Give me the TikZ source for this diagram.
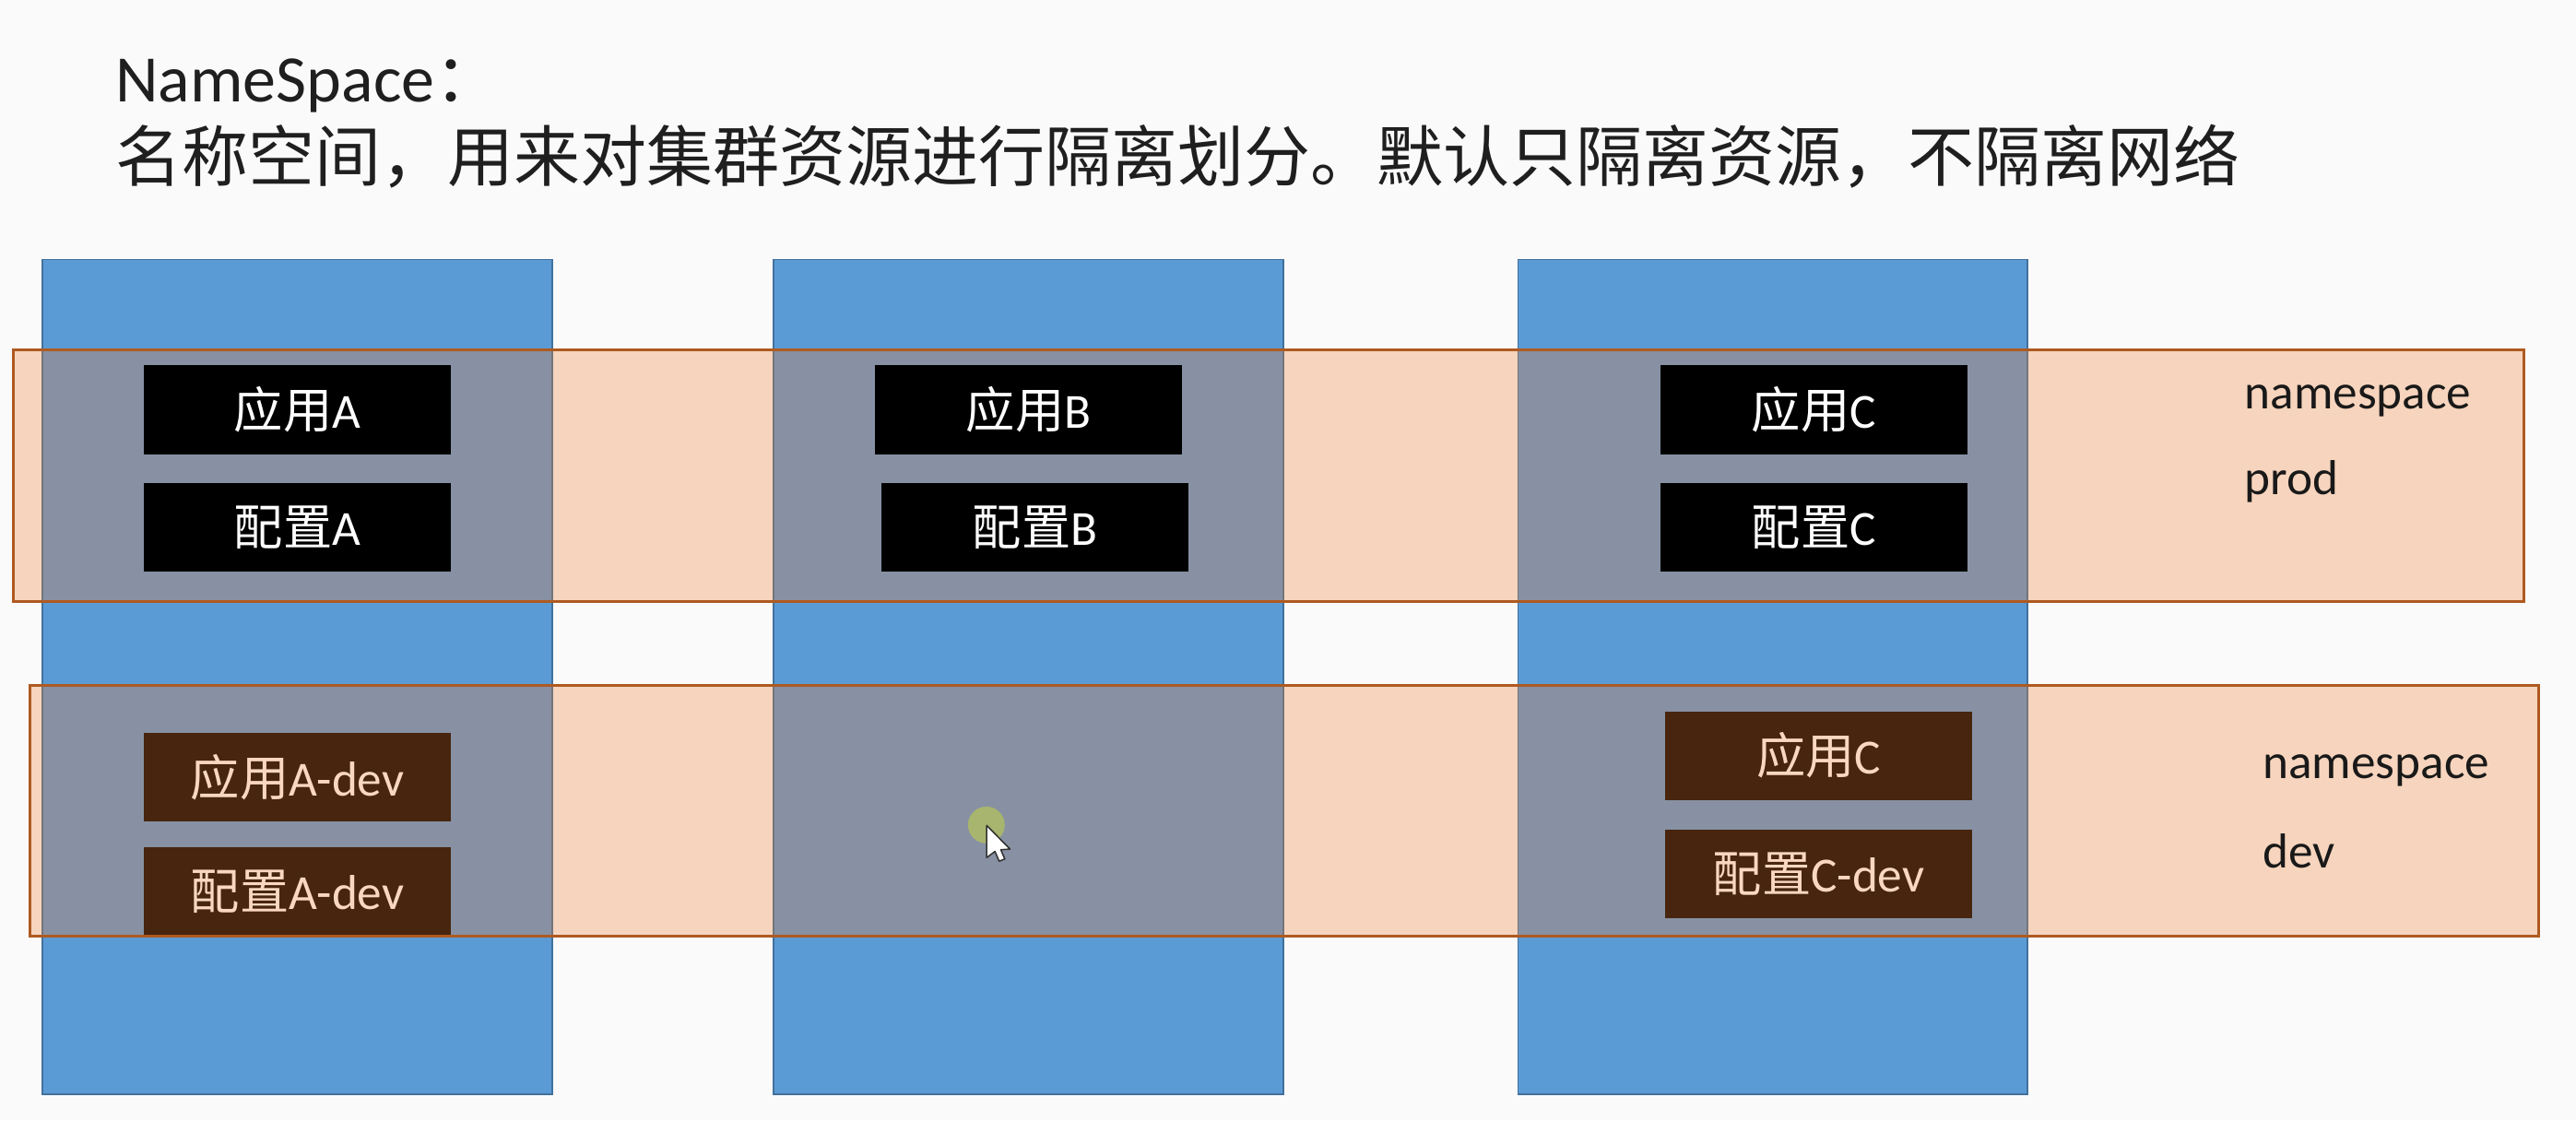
\documentclass[tikz,border=0pt]{standalone}
\usepackage{fontspec}
\setmainfont{Carlito}
\newfontfamily\cjk{Noto Sans CJK SC}
\definecolor{colblue}{HTML}{5B9BD5}
\definecolor{colline}{HTML}{41719C}
\definecolor{bandfill}{HTML}{ED7D31}
\definecolor{bandline}{HTML}{AE5A21}
\definecolor{pagebg}{HTML}{FBFAFA}
\definecolor{cursorspot}{HTML}{A8B56E}
\tikzset{
	column/.style={fill=colblue, draw=colline, line width=0.6pt},
	band/.style={fill=bandfill, fill opacity=.3, draw=bandline, line width=0.95pt},
	appbox/.style={fill=black, text=white, minimum width=3.74cm, minimum height=1.08cm, inner sep=0pt, font=\fontsize{17}{20}\selectfont},
	nslabel/.style={anchor=west, inner sep=0pt, text=black!90, font=\fontsize{17}{20}\selectfont},
	titletext/.style={anchor=west, inner sep=0pt, text=black!88, font=\fontsize{23}{28}\selectfont}
}

\begin{document}
\begin{tikzpicture}[x=0.02cm,y=-0.02cm]
	\useasboundingbox (0,0) rectangle (1568,682);
	\fill[pagebg] (0,0) rectangle (1568,682);

	% Title
	\node[titletext] (heading) at (70,52) {NameSpace{\cjk ：}};
	\node[titletext] (subheading) at (70,95) {\cjk 名称空间，用来对集群资源进行隔离划分。默认只隔离资源，不隔离网络};

	% Columns
	\foreach \x in {26,471,924}{
		\draw[column] (\x,158) rectangle ++(310,508);
	}

	% Boxes of dev lie under the band
	\foreach \name/\cx/\cy/\txt in {appAdev/181/473/{{\cjk 应用}A-dev}, cfgAdev/181/543/{{\cjk 配置}A-dev},
		appCdev/1107/460/{{\cjk 应用}C}, cfgCdev/1107/532/{{\cjk 配置}C-dev}}{
		\node[appbox] (\name) at (\cx,\cy) {\txt};
	}

	% Bands
	\draw[band] (18,417) rectangle (1545,570);
	\draw[band] (8,213) rectangle (1536,366);

	% Boxes of prod
	\foreach \name/\cx/\cy/\txt in {appA/181/249.5/{{\cjk 应用}A}, cfgA/181/321/{{\cjk 配置}A},
		appB/626/249.5/{{\cjk 应用}B}, cfgB/630/321/{{\cjk 配置}B},
		appC/1104/249.5/{{\cjk 应用}C}, cfgC/1104/321/{{\cjk 配置}C}}{
		\node[appbox] (\name) at (\cx,\cy) {\txt};
	}

	% Band labels
	\node[nslabel] (nsprod) at (1366,244) {namespace};
	\node[nslabel] (prod) at (1366,293) {prod};
	\node[nslabel] (nsdev) at (1377,469) {namespace};
	\node[nslabel] (dev) at (1377,518) {dev};

	% Cursor
	\fill[cursorspot] (600.4,502.2) circle[radius=11.2];
	\draw[fill=white, draw=black!80, line width=0.5pt, line join=round] (600.6,502.5) -- ++(0,19.6) -- ++(5,-3.8) -- ++(2.6,6) -- ++(3.4,-1.4) -- ++(-2.4,-5.6) -- ++(5.6,-0.4) -- cycle;
\end{tikzpicture}
\end{document}
